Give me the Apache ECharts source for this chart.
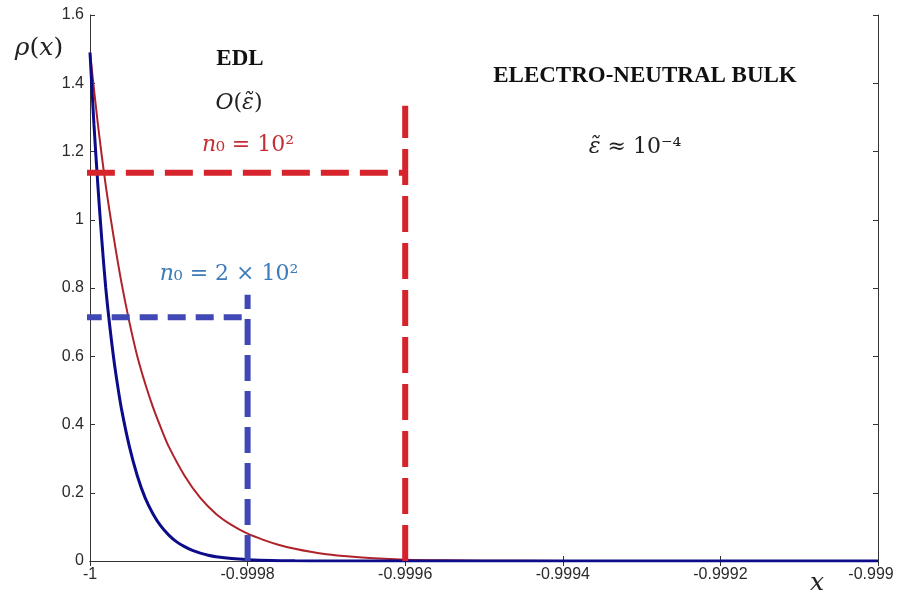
<!DOCTYPE html>
<html>
<head>
<meta charset="utf-8">
<title>rho(x) near the wall</title>
<script src="https://cdn.jsdelivr.net/npm/echarts@6/dist/echarts.min.js"></script>
<style>
  html, body { margin: 0; padding: 0; background: #fff; }
  #chart { width: 899px; height: 596px; }
</style>
</head>
<body>
<div id="chart"></div>
<script>
// tick labels
const xTickLabels = ["-1", "-0.9998", "-0.9996", "-0.9994", "-0.9992", "-0.999"];
const yTickLabels = ["0", "0.2", "0.4", "0.6", "0.8", "1", "1.2", "1.4", "1.6"];

// n0 = 10^2 (red curve)
const xRed = [-1, -0.99999, -0.99998, -0.99997, -0.99996, -0.99995, -0.99994, -0.99993,
  -0.99992, -0.99991, -0.9999, -0.99988, -0.99986, -0.99984, -0.99982, -0.9998,
  -0.99978, -0.99976, -0.99974, -0.99972, -0.9997, -0.99967, -0.99964, -0.9996,
  -0.99955, -0.9995, -0.9994, -0.999];
const rhoRed = [1.49, 1.28, 1.10, 0.95, 0.815, 0.70, 0.60, 0.52,
  0.45, 0.39, 0.335, 0.25, 0.185, 0.138, 0.105, 0.080,
  0.062, 0.047, 0.036, 0.027, 0.020, 0.013, 0.008, 0.004,
  0.002, 0.001, 0.0003, 0];

// n0 = 2 x 10^2 (blue curve)
const xBlue = [-1, -0.999995, -0.99999, -0.999985, -0.99998, -0.999975, -0.99997, -0.999965,
  -0.99996, -0.99995, -0.99994, -0.99993, -0.99992, -0.99991, -0.9999, -0.99989,
  -0.99988, -0.99987, -0.99986, -0.99985, -0.99984, -0.99982, -0.9998, -0.99977,
  -0.99974, -0.9997, -0.999];
const rhoBlue = [1.49, 1.28, 1.10, 0.94, 0.80, 0.69, 0.595, 0.515,
  0.445, 0.335, 0.25, 0.185, 0.138, 0.102, 0.076, 0.056,
  0.042, 0.031, 0.023, 0.017, 0.0126, 0.007, 0.004, 0.0015,
  0.0006, 0.0002, 0];

// EDL thickness markers (dashed guides)
const redGuideX = [-1.000004, -0.9996];
const redGuideLevel = 1.138;
const redGuideTop = 1.334;
const blueGuideX = [-1.000008, -0.9998];
const blueGuideLevel = 0.714;
const blueGuideTop = 0.78;

function pairs(xs, ys) {
  return xs.map((x, i) => [x, ys[i]]);
}

const chart = echarts.init(document.getElementById("chart"));

const tickFont = { fontFamily: "Liberation Sans", fontSize: 16, color: "#2a2a2a" };
const axisLine = { show: true, lineStyle: { color: "#333", width: 1 } };
const axisTick = { show: true, inside: true, length: 5, lineStyle: { color: "#333" } };

const option = {
  backgroundColor: "#fff",
  animation: false,
  // keep the box fixed even though the last x label runs to the edge
  grid: { left: 90, right: 21, top: 15, bottom: 35, outerBoundsMode: "none" },
  xAxis: [
    {
      type: "value", min: -1, max: -0.999, interval: 0.0002,
      axisLine: axisLine, axisTick: axisTick, splitLine: { show: false },
      axisLabel: Object.assign({
        margin: 6,
        formatter: v => {
          const i = Math.round((v + 1) / 0.0002);
          // last label sits a little left of its tick, as in the original
          return i === xTickLabels.length - 1 ? "{last|" + xTickLabels[i] + "}" : xTickLabels[i];
        },
        rich: { last: { fontFamily: "Liberation Sans", fontSize: 16, color: "#2a2a2a", padding: [0, 14, 0, 0] } }
      }, tickFont)
    },
    {
      type: "value", position: "top", min: -1, max: -0.999, interval: 0.0002,
      axisLine: axisLine, axisTick: axisTick, splitLine: { show: false },
      axisLabel: { show: false }
    }
  ],
  yAxis: [
    {
      type: "value", min: 0, max: 1.6, interval: 0.2,
      axisLine: axisLine, axisTick: axisTick, splitLine: { show: false },
      axisLabel: Object.assign({
        margin: 6,
        formatter: v => yTickLabels[Math.round(v / 0.2)]
      }, tickFont)
    },
    {
      type: "value", position: "right", min: 0, max: 1.6, interval: 0.2,
      axisLine: axisLine, axisTick: axisTick, splitLine: { show: false },
      axisLabel: { show: false }
    }
  ],
  series: [
    {
      type: "line", data: pairs(xRed, rhoRed), showSymbol: false, smooth: 0.3,
      lineStyle: { color: "#b0222a", width: 2 }
    },
    {
      type: "line", data: pairs(xBlue, rhoBlue), showSymbol: false, smooth: 0.3,
      lineStyle: { color: "#0c0c8a", width: 3 }
    },
    // red guides
    {
      type: "line", clip: false, showSymbol: false,
      data: [[redGuideX[0], redGuideLevel], [redGuideX[1], redGuideLevel]],
      lineStyle: { color: "#d7242c", width: 6, type: [28, 11] }
    },
    {
      type: "line", clip: false, showSymbol: false,
      data: [[redGuideX[1], 0], [redGuideX[1], redGuideTop]],
      lineStyle: { color: "#d7242c", width: 6, type: [36, 11] }
    },
    // blue guides
    {
      type: "line", clip: false, showSymbol: false,
      data: [[blueGuideX[0], blueGuideLevel], [blueGuideX[1], blueGuideLevel]],
      lineStyle: { color: "#3f48b4", width: 6, type: [18, 10] }
    },
    {
      type: "line", clip: false, showSymbol: false,
      data: [[blueGuideX[1], 0], [blueGuideX[1], blueGuideTop]],
      lineStyle: { color: "#3f48b4", width: 6, type: [26, 10] }
    }
  ],
  graphic: [
    // axis names
    {
      type: "text", x: 39, y: 48,
      style: {
        text: "{i|ρ}{r|(}{i|x}{r|)}", align: "center", verticalAlign: "middle",
        rich: {
          i: { font: "italic 25px 'DejaVu Serif'", fill: "#222" },
          r: { font: "25px 'DejaVu Serif'", fill: "#222" }
        }
      }
    },
    {
      type: "text", x: 817, y: 583,
      style: { text: "x", align: "center", verticalAlign: "middle",
        font: "italic 25px 'DejaVu Serif'", fill: "#222" }
    },
    // region labels
    {
      type: "text", x: 240, y: 59,
      style: { text: "EDL", align: "center", verticalAlign: "middle",
        font: "bold 23px 'Liberation Serif'", fill: "#111" }
    },
    {
      type: "text", x: 239, y: 103,
      style: {
        text: "{i|O}{r|(}{i|ε̃}{r|)}", align: "center", verticalAlign: "middle",
        rich: {
          i: { font: "italic 22px 'DejaVu Serif'", fill: "#222" },
          r: { font: "22px 'DejaVu Serif'", fill: "#222" }
        }
      }
    },
    {
      type: "text", x: 248, y: 145,
      style: {
        text: "{i|n}{r|₀ = 10²}", align: "center", verticalAlign: "middle",
        rich: {
          i: { font: "italic 22px 'DejaVu Serif'", fill: "#c62f36" },
          r: { font: "22px 'DejaVu Serif'", fill: "#c62f36" }
        }
      }
    },
    {
      type: "text", x: 229, y: 274,
      style: {
        text: "{i|n}{r|₀ = 2 × 10²}", align: "center", verticalAlign: "middle",
        rich: {
          i: { font: "italic 22px 'DejaVu Serif'", fill: "#3d7cb8" },
          r: { font: "22px 'DejaVu Serif'", fill: "#3d7cb8" }
        }
      }
    },
    {
      type: "text", x: 645, y: 76,
      style: { text: "ELECTRO-NEUTRAL BULK", align: "center", verticalAlign: "middle",
        font: "bold 23px 'Liberation Serif'", fill: "#111" }
    },
    {
      type: "text", x: 635, y: 147,
      style: {
        text: "{i|ε̃}{r| ≈ 10⁻⁴}", align: "center", verticalAlign: "middle",
        rich: {
          i: { font: "italic 22px 'DejaVu Serif'", fill: "#222" },
          r: { font: "22px 'DejaVu Serif'", fill: "#222" }
        }
      }
    }
  ]
};

chart.setOption(option);
</script>
</body>
</html>
